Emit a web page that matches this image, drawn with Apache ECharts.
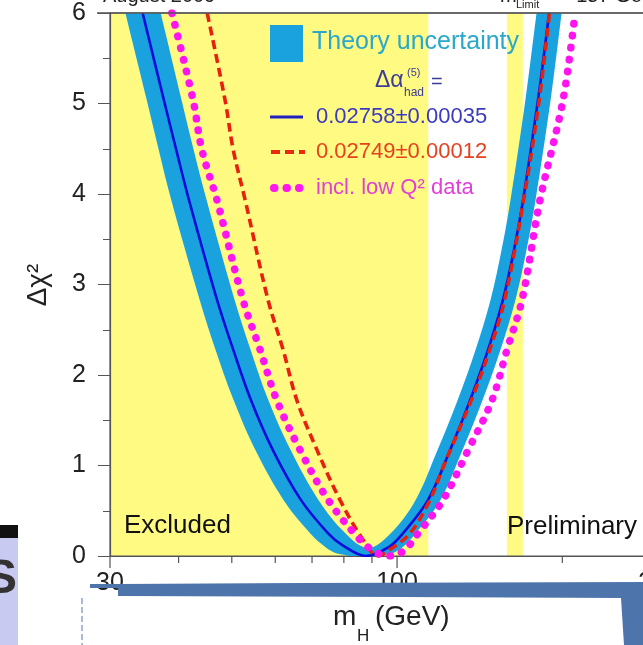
<!DOCTYPE html>
<html><head><meta charset="utf-8">
<script src="https://cdn.jsdelivr.net/npm/echarts@6/dist/echarts.min.js"></script>
<style>html,body{margin:0;padding:0;background:#fff;overflow:hidden}#c{width:643px;height:645px}</style>
</head><body><div id="c"></div>
<script>
// ---- data ----
const xTickValues = [30, 40, 50, 60, 70, 80, 90, 100, 200, 300];
const xLabelValues = [30, 100, 300];
const yTickLabels = ['0', '1', '2', '3', '4', '5', '6'];
const excludedRanges = [[30, 114], [158.5, 169.5]];   // LEP direct search, Tevatron
const blueLine = [[34.4,6.0],[37.6,5.04],[39.6,4.49],[41.8,3.93],[47.0,2.83],[50.3,2.28],[54.2,1.72],[59.4,1.17],[66.8,0.62],[74.9,0.25],[79.5,0.12],[87.8,0.0],[96.7,0.10],[102.5,0.25],[113.9,0.62],[124.9,1.17],[135.8,1.72],[146.5,2.28],[155.9,2.83],[163.3,3.38],[169.6,3.93],[180.6,5.04],[189.2,6.0]];
const redDashed = [[45.1,6.0],[48.6,5.04],[50.3,4.49],[52.9,3.93],[58.2,2.83],[62.0,2.28],[65.7,1.72],[71.5,1.17],[78.7,0.62],[86.7,0.18],[92.3,0.0],[97.5,0.08],[105.6,0.25],[114.8,0.62],[121.3,0.98],[136.5,1.72],[147.5,2.28],[157.0,2.83],[170.0,3.93],[181.5,5.04],[189.5,6.0]];
const magentaDotted = [[38.9,6.0],[42.5,5.04],[44.1,4.49],[47.0,3.93],[52.4,2.83],[56.3,2.28],[60.4,1.72],[66.6,1.17],[74.9,0.62],[85.6,0.18],[91.5,0.04],[97.1,0.0],[103.0,0.06],[109.2,0.25],[121.3,0.62],[134.7,1.17],[148.9,1.72],[158.6,2.28],[168.9,2.83],[182.1,3.93],[200.6,5.04],[211.0,6.0]];
const bandOutline = [
  [30.6,6.5],[32.0,6.0],[35.0,5.04],[36.8,4.49],[38.8,3.93],[43.7,2.83],[46.7,2.28],[50.4,1.72],[55.2,1.17],[62.1,0.62],[69.5,0.25],[74.0,0.10],[77.4,0.03],[81.6,0.0],
  [86.0,-0.1],[92.0,-0.1],
  [93.1,0.0],[98.1,0.03],[102.4,0.10],[108.1,0.25],[120.0,0.62],[131.6,1.17],[143.1,1.72],[154.3,2.28],[164.3,2.83],[172.1,3.38],[178.7,3.93],[190.4,5.04],[199.4,6.0],[204.0,6.5],
  [184.0,6.5],[179.5,6.0],[171.3,5.04],[160.9,3.93],[155.0,3.38],[148.0,2.83],[139.0,2.28],[128.9,1.72],[118.5,1.17],[108.1,0.62],[97.3,0.25],
  [88.5,0.09],
  [80.6,0.25],[71.9,0.62],[64.0,1.17],[58.3,1.72],[54.1,2.28],[50.6,2.83],[45.0,3.93],[42.6,4.49],[40.5,5.04],[37.1,6.0],[35.4,6.5]
];

const YELLOW = '#fffa82', BAND = '#19a2dd', FONT = 'Liberation Sans';
const chart = echarts.init(document.getElementById('c'), null, {renderer: 'canvas'});

function T(text, x, baseline, fs, color, extra) {
  return Object.assign({type: 'text', z: 100, style: Object.assign({
    text: text, x: x, y: baseline - 0.35 * fs, fontSize: fs, fontFamily: FONT,
    fill: color, align: 'left', verticalAlign: 'middle'}, extra || {})});
}

const graphics = [
  // top (cut) texts
  T('August 2009', 103, 3, 20, '#222'),
  T('m', 500, 3, 20, '#222'),
  T('Limit', 516, 9, 11, '#222'),
  T('= 157 GeV', 559, 3, 20, '#222'),
  // legend
  {type: 'rect', z: 100, shape: {x: 270, y: 25, width: 33, height: 37}, style: {fill: BAND}},
  T('Theory uncertainty', 312, 51, 25, '#2aa8cc'),
  T('\u0394\u03b1', 375, 89, 23, '#3d3d99'),
  T('(5)', 407, 77, 11, '#3d3d99'),
  T('had', 404, 97, 12, '#3d3d99'),
  T('=', 431, 89, 20, '#3d3d99'),
  {type: 'line', z: 100, shape: {x1: 270, y1: 117, x2: 303, y2: 117}, style: {stroke: '#2020c0', lineWidth: 3}},
  T('0.02758\u00b10.00035', 316, 125, 22, '#3b3bc0'),
  {type: 'line', z: 100, shape: {x1: 271, y1: 152, x2: 305, y2: 152}, style: {stroke: '#e82a12', lineWidth: 4, lineDash: [9, 5]}},
  T('0.02749\u00b10.00012', 316, 160, 22, '#e5431f'),
  {type: 'line', z: 100, shape: {x1: 274, y1: 188, x2: 300, y2: 188}, style: {stroke: '#ff18ee', lineWidth: 8, lineDash: [0.5, 12], lineCap: 'round'}},
  T('incl. low Q\u00b2 data', 316, 196, 22, '#e23fd8'),
  // annotations
  T('Excluded', 124, 535, 26, '#111'),
  T('Preliminary', 507, 536, 26, '#111'),
  // axis titles
  {type: 'text', z: 100, x: 38, y: 285, rotation: Math.PI / 2,
   style: {text: '\u0394\u03c7\u00b2', fontSize: 28, fontFamily: FONT, fill: '#222', align: 'center', verticalAlign: 'middle'}},
  T('m', 333, 627, 28, '#222'),
  T('H', 357, 642, 17, '#222'),
  T('(GeV)', 375, 627, 28, '#222'),
  // screenshot artefacts at the edges
  {type: 'rect', z: 90, shape: {x: 0, y: 538, width: 18, height: 107}, style: {fill: '#c9caf2'}},
  {type: 'rect', z: 91, shape: {x: 0, y: 525, width: 18, height: 13}, style: {fill: '#111'}},
  {type: 'text', z: 92, style: {text: 'S', x: -15, y: 580, fontSize: 48, fontWeight: 'bold', fontFamily: FONT, fill: '#333', verticalAlign: 'middle'}},
  {type: 'polygon', z: 95, shape: {points: [[118,584],[300,583],[643,582],[643,645],[624,645],[621,598],[400,597],[118,596]]}, style: {fill: '#4d74ab'}},
  {type: 'line', z: 95, shape: {x1: 90, y1: 586, x2: 120, y2: 586}, style: {stroke: '#4d74ab', lineWidth: 4}},
  {type: 'line', z: 95, shape: {x1: 82, y1: 598, x2: 82, y2: 645}, style: {stroke: '#8aa6cf', lineWidth: 1.5, lineDash: [6, 3]}},
  {type: 'line', z: 95, shape: {x1: 97, y1: 13, x2: 643, y2: 13}, style: {stroke: '#555', lineWidth: 1.3}}
];

const option = {
  animation: false,
  backgroundColor: '#fff',
  grid: {left: 110, top: 13, width: 549, height: 543, containLabel: false, outerBoundsMode: 'none',
         show: true, borderColor: '#555', borderWidth: 1.2, backgroundColor: 'rgba(0,0,0,0)'},
  xAxis: {type: 'log', logBase: 10, min: 30, max: 300,
    axisLine: {show: true, lineStyle: {color: '#555', width: 1.2}}, axisTick: {show: false}, axisLabel: {show: false}, splitLine: {show: false}},
  yAxis: {type: 'value', min: 0, max: 6, interval: 1,
    axisLine: {show: true, lineStyle: {color: '#555', width: 1.2}},
    axisTick: {show: true, inside: false, length: 12, lineStyle: {color: '#555'}},
    minorTick: {show: true, splitNumber: 2, length: 7, lineStyle: {color: '#555'}},
    axisLabel: {fontSize: 25, color: '#222', margin: 24, fontFamily: FONT, formatter: (v) => yTickLabels[Math.round(v)]},
    splitLine: {show: false}},
  series: [
    {type: 'custom', z: -1, clip: true, data: excludedRanges, encode: {x: 0},
     renderItem: (params, api) => {
       const a = api.coord([api.value(0), 6]), b = api.coord([api.value(1), 0]);
       return {type: 'rect', shape: {x: a[0], y: a[1], width: b[0] - a[0], height: b[1] - a[1]}, style: {fill: YELLOW}};
     }},
    {type: 'custom', z: 1, clip: true, data: [[100, 1]],
     renderItem: (params, api) => ({type: 'polygon', shape: {points: bandOutline.map(p => api.coord(p)), smooth: 0.35}, style: {fill: BAND}})},
    {type: 'line', z: 3, data: blueLine, smooth: 0.35, showSymbol: false, clip: true,
     lineStyle: {color: '#0b0bdc', width: 2.6}},
    {type: 'line', z: 4, data: redDashed, smooth: 0.35, showSymbol: false, clip: true,
     lineStyle: {color: '#e8200f', width: 3.6, type: [9, 5]}},
    {type: 'line', z: 5, data: magentaDotted, smooth: 0.35, showSymbol: false, clip: true,
     lineStyle: {color: '#ff14f0', width: 7.5, type: [0.5, 11.5], cap: 'round'}},
    {type: 'custom', z: 6, clip: false, data: xTickValues.map(v => [v, 0]),
     renderItem: (params, api) => {
       const v = api.value(0), p = api.coord([v, 0]);
       const major = xLabelValues.indexOf(v) >= 0;
       const children = [{type: 'line', shape: {x1: p[0], y1: p[1], x2: p[0], y2: p[1] + (major ? 12 : 7)}, style: {stroke: '#555', lineWidth: 1.2}}];
       if (major) children.push({type: 'text', style: {text: String(v), x: p[0], y: p[1] + 27, align: 'center', verticalAlign: 'middle', fontSize: 25, fontFamily: FONT, fill: '#222'}});
       return {type: 'group', children: children};
     }}
  ],
  graphic: graphics
};
chart.setOption(option);
</script></body></html>
